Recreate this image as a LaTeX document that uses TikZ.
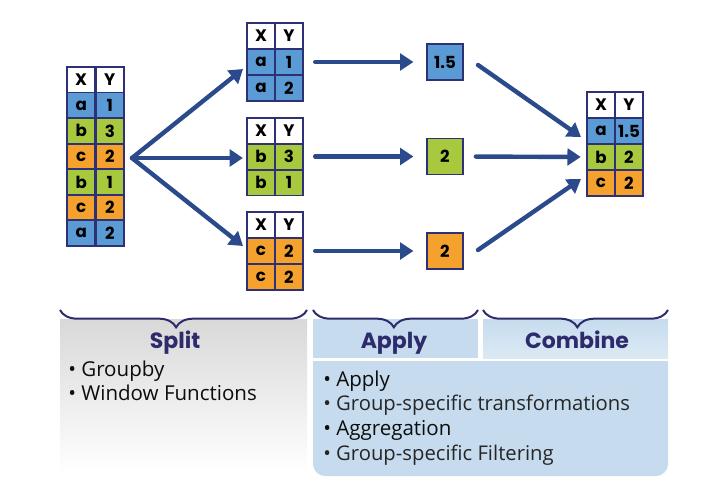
\documentclass[tikz,border=0pt]{standalone}
\usepackage{fontspec}
\setmainfont{Open Sans}
\newfontfamily\headfont{Poppins}
\usepackage{tikz}
\usetikzlibrary{arrows.meta,decorations.pathreplacing}

\definecolor{navy}{HTML}{2E3175}
\definecolor{arrowblue}{HTML}{2A4A8C}
\definecolor{cblue}{HTML}{5B9BD5}
\definecolor{cgreen}{HTML}{A8C83E}
\definecolor{corange}{HTML}{F4A12E}
\definecolor{paleblue}{HTML}{C6DCEE}
\definecolor{palerblue}{HTML}{DCE9F4}
\definecolor{headnavy}{HTML}{2D2B6B}

\tikzset{
  cell/.style={draw=navy, line width=1.3pt, minimum width=21pt, minimum height=19.3pt,
    inner sep=0pt, font=\headfont\bfseries\fontsize{12.5}{12.5}\selectfont},
  res/.style={draw=navy, line width=1.3pt, minimum size=27pt, inner sep=0pt,
    font=\headfont\bfseries\fontsize{12.5}{12.5}\selectfont},
  flow/.style={draw=arrowblue, line width=3.3pt, line cap=round,
    -{Triangle[length=10pt,width=12.5pt]}},
  curly/.style={draw=headnavy, line width=1.5pt, decorate,
    decoration={brace, mirror, amplitude=13pt, aspect=#1}},
  stage/.style={anchor=base, text=headnavy, font=\headfont\bfseries\fontsize{16.5}{16.5}\selectfont},
  item/.style={anchor=base west, inner sep=0pt, text=black!95, font=\fontsize{15.4}{15.4}\selectfont},
  subitem/.style={anchor=base west, inner sep=0pt, text=black!85, font=\fontsize{15.2}{15.2}\selectfont}
}

\begin{document}
\begin{tikzpicture}[x=0.75pt, y=-0.75pt]
\useasboundingbox (0,0) rectangle (714,492);

\node[cell, fill=white] (l0x) at (81.2,79.8) {X};
\node[cell, fill=white] (l0y) at (109.8,79.8) {Y};
\node[cell, fill=cblue] (l1x) at (81.2,105.4) {a};
\node[cell, fill=cblue] (l1y) at (109.8,105.4) {1};
\node[cell, fill=cgreen] (l2x) at (81.2,130.9) {b};
\node[cell, fill=cgreen] (l2y) at (109.8,130.9) {3};
\node[cell, fill=corange] (l3x) at (81.2,156.5) {c};
\node[cell, fill=corange] (l3y) at (109.8,156.5) {2};
\node[cell, fill=cgreen] (l4x) at (81.2,182.1) {b};
\node[cell, fill=cgreen] (l4y) at (109.8,182.1) {1};
\node[cell, fill=corange] (l5x) at (81.2,207.7) {c};
\node[cell, fill=corange] (l5y) at (109.8,207.7) {2};
\node[cell, fill=cblue] (l6x) at (81.2,233.2) {a};
\node[cell, fill=cblue] (l6y) at (109.8,233.2) {2};

\node[cell, fill=white] (a0x) at (261,36) {X};
\node[cell, fill=white] (a0y) at (289,36) {Y};
\node[cell, fill=cblue] (a1x) at (261,62) {a};
\node[cell, fill=cblue] (a1y) at (289,62) {1};
\node[cell, fill=cblue] (a2x) at (261,88) {a};
\node[cell, fill=cblue] (a2y) at (289,88) {2};

\node[cell, fill=white] (b0x) at (261,130.5) {X};
\node[cell, fill=white] (b0y) at (289,130.5) {Y};
\node[cell, fill=cgreen] (b1x) at (261,156.5) {b};
\node[cell, fill=cgreen] (b1y) at (289,156.5) {3};
\node[cell, fill=cgreen] (b2x) at (261,182.5) {b};
\node[cell, fill=cgreen] (b2y) at (289,182.5) {1};

\node[cell, fill=white] (c0x) at (261,225) {X};
\node[cell, fill=white] (c0y) at (289,225) {Y};
\node[cell, fill=corange] (c1x) at (261,251) {c};
\node[cell, fill=corange] (c1y) at (289,251) {2};
\node[cell, fill=corange] (c2x) at (261,277) {c};
\node[cell, fill=corange] (c2y) at (289,277) {2};

\node[res, fill=cblue] (ra) at (445,62) {1.5};
\node[res, fill=cgreen] (rb) at (445,156.5) {2};
\node[res, fill=corange] (rc) at (445,251) {2};

\node[cell, fill=white] (r0x) at (601,105) {X};
\node[cell, fill=white] (r0y) at (629,105) {Y};
\node[cell, fill=cblue] (r1x) at (601,131) {a};
\node[cell, fill=cblue] (r1y) at (629,131) {1.5};
\node[cell, fill=cgreen] (r2x) at (601,157) {b};
\node[cell, fill=cgreen] (r2y) at (629,157) {2};
\node[cell, fill=corange] (r3x) at (601,183) {c};
\node[cell, fill=corange] (r3y) at (629,183) {2};

\coordinate (fan) at (132,158);
\coordinate (fanA) at (243,69);
\coordinate (fanB) at (243,158);
\coordinate (fanC) at (243,246);
\draw[flow] (fan) -- (fanA);
\draw[flow] (fan) -- (fanB);
\draw[flow] (fan) -- (fanC);

\draw[flow, shorten <=8.5pt, shorten >=9.5pt] (a1y.east) -- (ra.west);
\draw[flow, shorten <=8.5pt, shorten >=9.5pt] (b1y.east) -- (rb.west);
\draw[flow, shorten <=8.5pt, shorten >=9.5pt] (c1y.east) -- (rc.west);

\coordinate (joinA) at (478,65);
\coordinate (doneA) at (581,137);
\coordinate (joinC) at (478,250);
\coordinate (doneC) at (581,179);
\draw[flow] (joinA) -- (doneA);
\draw[flow, shorten <=9pt, shorten >=4pt] (rb.east) -- (r2x.west);
\draw[flow] (joinC) -- (doneC);

\shade[top color=black!15, bottom color=white] (60,319) -- (307,319) -- (307,472) -- (60,472) -- cycle;
\fill[paleblue] (313,319) rectangle (478,358);
\shade[top color=paleblue, bottom color=palerblue] (483,319) rectangle (668,358);
\fill[paleblue] (313,361) -- (668,361) [rounded corners=9pt] -- (668,476) -- (313,476) [sharp corners] -- cycle;

\draw[curly=0.47] (60,310) -- (307,310);
\draw[curly=0.49] (313,310) -- (478,310);
\draw[curly=0.51] (483,310) -- (668,310);

\node[stage] (split) at (175,348) {Split};
\node[stage] (apply) at (394,348) {Apply};
\node[stage] (combine) at (577,348) {Combine};

\node[item] (s1) at (68,376) {• Groupby};
\node[item] (s2) at (68,400) {• Window Functions};

\node[item] (p1) at (323,386) {• Apply};
\node[subitem] (p2) at (323,410) {• Group-specific transformations};
\node[item] (p3) at (323,435) {• Aggregation};
\node[subitem] (p4) at (323,460) {• Group-specific Filtering};
\end{tikzpicture}
\end{document}
